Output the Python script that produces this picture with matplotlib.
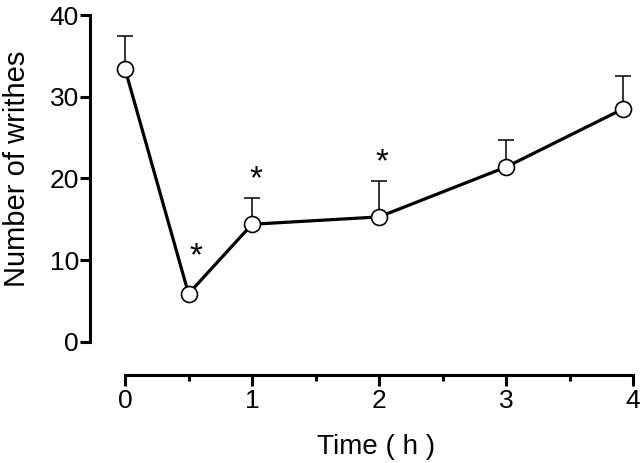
import matplotlib
matplotlib.use("Agg")
import matplotlib.pyplot as plt

plt.rcParams['font.family'] = ['Liberation Sans', 'DejaVu Sans']

# data
time_h = [0, 0.5, 1, 2, 3, 3.92]
writhes = [33.4, 5.9, 14.4, 15.3, 21.4, 28.5]
err_up = [4.0, 0.0, 3.2, 4.4, 3.3, 4.0]
star_x = [0.56, 1.03, 2.02]
star_y = [10.4, 19.8, 21.9]

fig = plt.figure(figsize=(6.4, 4.63), dpi=100)
ax = fig.add_axes([90/640, 88/463, 543/640, 360/463])

ax.errorbar(time_h, writhes, yerr=[[0]*len(err_up), err_up], fmt='none',
            ecolor='black', elinewidth=1.1, capsize=6, capthick=1.1, zorder=2)
ax.plot(time_h, writhes, color='black', lw=2.3, marker='o', ms=11.5,
        mfc='white', mec='black', mew=1.2, zorder=3, clip_on=False)
for sx, sy in zip(star_x, star_y):
    ax.text(sx, sy, '*', fontsize=24, ha='center', va='center')

ax.set_xlim(-0.276, 4)
ax.set_ylim(-4.04, 40)
ax.spines['top'].set_visible(False)
ax.spines['right'].set_visible(False)
ax.spines['left'].set_bounds(0, 40)
ax.spines['bottom'].set_bounds(0, 4)
ax.spines['left'].set_linewidth(2.2)
ax.spines['bottom'].set_linewidth(2.2)

ax.set_xticks([0, 1, 2, 3, 4])
ax.set_xticks([0.5, 1.5, 2.5, 3.5], minor=True)
ax.set_yticks([0, 10, 20, 30, 40])
ax.tick_params(axis='both', which='major', labelsize=19, width=2.2, direction='out')
ax.tick_params(axis='x', which='major', length=8, pad=2)
ax.tick_params(axis='y', which='major', length=7, pad=1)
ax.tick_params(axis='x', which='minor', width=2.2, length=4.5, direction='out')

ax.set_ylabel('Number of writhes', fontsize=21)
ax.yaxis.set_label_coords(-0.108, 0.573)
fig.text(376/640, 16/463, 'Time ( h )', fontsize=20, ha='center', va='center')

fig.savefig('out.png', dpi=100)
